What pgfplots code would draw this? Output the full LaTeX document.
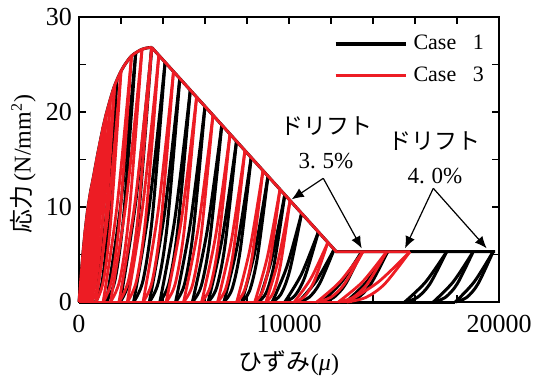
\documentclass[border=0pt]{standalone}
\usepackage{pgfplots}
\pgfplotsset{compat=1.18}
\usepackage{fontspec}
\setmainfont{Liberation Serif}
\newfontfamily\cjk{Noto Sans CJK JP}
\usetikzlibrary{arrows.meta}
\definecolor{cred}{RGB}{237,28,36}
\pgfplotsset{
  R/.style={cred, line width=1.4pt, smooth, forget plot},
  B/.style={black, line width=1.5pt, smooth, forget plot},
}
\begin{document}
\begin{tikzpicture}
\begin{axis}[name=ax,
  width=210pt, height=142.5pt, scale only axis,
  xmin=0, xmax=20000, ymin=0, ymax=30,
  xtick={0,10000,20000}, minor xtick={2000,4000,6000,8000,12000,14000,16000,18000},
  ytick={0,10,20,30}, minor ytick={5,15,25},
  tick align=inside, major tick length=3.5pt, minor tick length=3.5pt,
  scaled x ticks=false,
  xticklabel style={/pgf/number format/1000 sep={}, yshift=-3pt},
  /pgf/number format/assume math mode=true,
  tick label style={font=\fontsize{13}{13}\selectfont},
  axis line style={line width=0.8pt},
  every tick/.style={black, line width=0.8pt},
  clip=false,
  xlabel={{\cjk ひずみ}(\textit{μ})},
  xlabel style={at={(axis description cs:0.5,-0.215)}, anchor=center, font=\fontsize{12}{12}\selectfont},
  ylabel={{\cjk 応力}\,(N/mm\textsuperscript{2})},
  ylabel style={at={(axis description cs:-0.133,0.484)}, anchor=center, font=\fontsize{12}{12}\selectfont},
  legend style={draw=none, fill=none, at={(rel axis cs:0.605,0.945)}, anchor=north west,
    inner sep=0pt, row sep=5pt, column sep=2pt, font=\fontsize{11}{11}\selectfont,
    nodes={inner sep=1pt}},
  legend image code/.code={\draw[#1] (0pt,0pt) -- (35pt,0pt);},
]
\addlegendimage{black, line width=2pt}
\addlegendentry{Case\hspace{0.75em}1}
\addlegendimage{cred, line width=1.4pt}
\addlegendentry{Case\hspace{0.75em}3}

% ---------------- Case 1 (black) ----------------
\addplot[B, sharp plot] coordinates {(0,0)(17920,0)};
\addplot[B] coordinates {(1800,23.3)(1400,8.39)(1100,2.10)(800,0)};
\addplot[B] coordinates {(800,0)(1300,9.32)(1800,23.3)};
\addplot[B] coordinates {(2700,26.2)(2140,9.43)(1720,2.36)(1300,0)};
\addplot[B] coordinates {(1300,0)(2000,10.48)(2700,26.2)};
\addplot[B] coordinates {(3462,26.8)(2862,9.65)(2412,2.41)(1962,0)};
\addplot[B] coordinates {(1962,0)(2712,10.72)(3462,26.8)};
\addplot[B] coordinates {(4100,25.24)(3500,9.09)(3050,2.27)(2600,0)};
\addplot[B] coordinates {(2600,0)(3350,10.10)(4100,25.24)};
\addplot[B] coordinates {(4800,23.53)(4220,8.47)(3785,2.12)(3350,0)};
\addplot[B] coordinates {(3350,0)(4075,9.41)(4800,23.53)};
\addplot[B] coordinates {(5300,22.30)(4720,8.03)(4285,2.01)(3850,0)};
\addplot[B] coordinates {(3850,0)(4575,8.92)(5300,22.30)};
\addplot[B] coordinates {(6000,20.59)(5440,7.41)(5020,1.85)(4600,0)};
\addplot[B] coordinates {(4600,0)(5300,8.24)(6000,20.59)};
\addplot[B] coordinates {(6800,18.63)(6240,6.71)(5820,1.68)(5400,0)};
\addplot[B] coordinates {(5400,0)(6100,7.45)(6800,18.63)};
\addplot[B] coordinates {(7500,16.92)(6960,6.09)(6555,1.52)(6150,0)};
\addplot[B] coordinates {(6150,0)(6825,6.77)(7500,16.92)};
\addplot[B] coordinates {(8200,15.21)(7680,5.48)(7290,1.37)(6900,0)};
\addplot[B] coordinates {(6900,0)(7550,6.08)(8200,15.21)};
\addplot[B] coordinates {(9000,13.25)(8500,4.77)(8125,1.19)(7750,0)};
\addplot[B] coordinates {(7750,0)(8375,5.30)(9000,13.25)};
\addplot[B] coordinates {(9800,11.29)(9300,4.06)(8925,1.02)(8550,0)};
\addplot[B] coordinates {(8550,0)(9175,4.52)(9800,11.29)};
\addplot[B] coordinates {(10600,9.33)(10040,3.36)(9620,0.84)(9200,0)};
\addplot[B] coordinates {(9200,0)(9900,3.73)(10600,9.33)};
\addplot[B] coordinates {(11400,7.38)(10760,2.66)(10280,0.66)(9800,0)};
\addplot[B] coordinates {(9800,0)(10600,2.95)(11400,7.38)};
\addplot[B] coordinates {(12150,5.54)(11470,1.99)(10960,0.50)(10450,0)};
\addplot[B] coordinates {(10450,0)(11300,2.22)(12150,5.54)};
\addplot[B] coordinates {(13460,5.3)(12700,1.91)(12130,0.48)(11560,0)};
\addplot[B] coordinates {(11560,0)(12510,2.12)(13460,5.3)};
\addplot[B] coordinates {(14700,5.3)(13900,1.91)(13300,0.48)(12700,0)};
\addplot[B] coordinates {(12700,0)(13700,2.12)(14700,5.3)};
\addplot[B] coordinates {(17510,5.3)(16710,1.91)(16110,0.48)(15510,0)};
\addplot[B] coordinates {(15510,0)(16510,2.12)(17510,5.3)};
\addplot[B] coordinates {(18770,5.3)(18010,1.91)(17440,0.48)(16870,0)};
\addplot[B] coordinates {(16870,0)(17820,2.12)(18770,5.3)};
\addplot[B] coordinates {(19720,5.3)(19000,1.91)(18460,0.48)(17920,0)};
\addplot[B] coordinates {(17920,0)(18820,2.12)(19720,5.3)};
% envelope
\addplot[B] coordinates {(0,0)(100,2.8)(200,5.4)(300,7.6)(400,9.5)(550,11.6)(700,13.3)(850,15.1)(1000,16.8)(1150,18.4)(1300,19.8)(1500,21.4)(1700,22.8)(2000,24.3)(2250,25.2)(2500,25.9)(2750,26.3)(3000,26.6)(3250,26.75)(3462,26.8)};
\addplot[B, sharp plot] coordinates {(3462,26.8)(12250,5.3)(19810,5.3)};

% ---------------- Case 3 (red) ----------------
\addplot[R, sharp plot] coordinates {(0,0)(13000,0)};
\addplot[R] coordinates {(300,7.6)(192,2.74)(111,0.68)(30,0)};
\addplot[R] coordinates {(30,0)(165,3.04)(300,7.6)};
\addplot[R] coordinates {(550,11.6)(366,4.18)(228,1.04)(90,0)};
\addplot[R] coordinates {(90,0)(320,4.64)(550,11.6)};
\addplot[R] coordinates {(700,13.3)(472,4.79)(301,1.20)(130,0)};
\addplot[R] coordinates {(130,0)(415,5.32)(700,13.3)};
\addplot[R] coordinates {(850,15.1)(582,5.44)(381,1.36)(180,0)};
\addplot[R] coordinates {(180,0)(515,6.04)(850,15.1)};
\addplot[R] coordinates {(1000,16.8)(696,6.05)(468,1.51)(240,0)};
\addplot[R] coordinates {(240,0)(620,6.72)(1000,16.8)};
\addplot[R] coordinates {(1150,18.4)(810,6.62)(555,1.66)(300,0)};
\addplot[R] coordinates {(300,0)(725,7.36)(1150,18.4)};
\addplot[R] coordinates {(1300,19.8)(928,7.13)(649,1.78)(370,0)};
\addplot[R] coordinates {(370,0)(835,7.92)(1300,19.8)};
\addplot[R] coordinates {(1500,21.4)(1092,7.70)(786,1.93)(480,0)};
\addplot[R] coordinates {(480,0)(990,8.56)(1500,21.4)};
\addplot[R] coordinates {(1700,22.8)(1260,8.21)(930,2.05)(600,0)};
\addplot[R] coordinates {(600,0)(1150,9.12)(1700,22.8)};
\addplot[R] coordinates {(2000,24.3)(1520,8.75)(1160,2.19)(800,0)};
\addplot[R] coordinates {(800,0)(1400,9.72)(2000,24.3)};
\addplot[R] coordinates {(2500,25.9)(1960,9.32)(1555,2.33)(1150,0)};
\addplot[R] coordinates {(1150,0)(1825,10.36)(2500,25.9)};
\addplot[R] coordinates {(3000,26.6)(2400,9.58)(1950,2.39)(1500,0)};
\addplot[R] coordinates {(1500,0)(2250,10.64)(3000,26.6)};
\addplot[R] coordinates {(3462,26.8)(2838,9.65)(2370,2.41)(1902,0)};
\addplot[R] coordinates {(1902,0)(2682,10.72)(3462,26.8)};
\addplot[R] coordinates {(3800,25.97)(3200,9.35)(2750,2.34)(2300,0)};
\addplot[R] coordinates {(2300,0)(3050,10.39)(3800,25.97)};
\addplot[R] coordinates {(4500,24.26)(3920,8.73)(3485,2.18)(3050,0)};
\addplot[R] coordinates {(3050,0)(3775,9.70)(4500,24.26)};
\addplot[R] coordinates {(5600,21.57)(5020,7.77)(4585,1.94)(4150,0)};
\addplot[R] coordinates {(4150,0)(4875,8.63)(5600,21.57)};
\addplot[R] coordinates {(6380,19.66)(5820,7.08)(5400,1.77)(4980,0)};
\addplot[R] coordinates {(4980,0)(5680,7.86)(6380,19.66)};
\addplot[R] coordinates {(7190,17.68)(6650,6.36)(6245,1.59)(5840,0)};
\addplot[R] coordinates {(5840,0)(6515,7.07)(7190,17.68)};
\addplot[R] coordinates {(7900,15.94)(7380,5.74)(6990,1.43)(6600,0)};
\addplot[R] coordinates {(6600,0)(7250,6.38)(7900,15.94)};
\addplot[R] coordinates {(8760,13.84)(8260,4.98)(7885,1.25)(7510,0)};
\addplot[R] coordinates {(7510,0)(8135,5.54)(8760,13.84)};
\addplot[R] coordinates {(9570,11.85)(9090,4.27)(8730,1.07)(8370,0)};
\addplot[R] coordinates {(8370,0)(8970,4.74)(9570,11.85)};
\addplot[R] coordinates {(10050,10.68)(9590,3.84)(9245,0.96)(8900,0)};
\addplot[R] coordinates {(8900,0)(9475,4.27)(10050,10.68)};
\addplot[R] coordinates {(11850,6.27)(11210,2.26)(10730,0.56)(10250,0)};
\addplot[R] coordinates {(10250,0)(11050,2.51)(11850,6.27)};
\addplot[R] coordinates {(13520,5.3)(12640,1.91)(11980,0.48)(11320,0)};
\addplot[R] coordinates {(11320,0)(12420,2.12)(13520,5.3)};
\addplot[R] coordinates {(14650,5.3)(13730,1.91)(13040,0.48)(12350,0)};
\addplot[R] coordinates {(12350,0)(13500,2.12)(14650,5.3)};
\addplot[R] coordinates {(15760,5.3)(14560,1.91)(13660,0.48)(12760,0)};
\addplot[R] coordinates {(12760,0)(14260,2.12)(15760,5.3)};
% envelope
\addplot[R] coordinates {(0,0)(100,2.8)(200,5.4)(300,7.6)(400,9.5)(550,11.6)(700,13.3)(850,15.1)(1000,16.8)(1150,18.4)(1300,19.8)(1500,21.4)(1700,22.8)(2000,24.3)(2250,25.2)(2500,25.9)(2750,26.3)(3000,26.6)(3250,26.75)(3462,26.8)};
\addplot[R, sharp plot] coordinates {(3462,26.8)(12250,5.3)(15760,5.3)};

% annotations
\node[font=\fontsize{11.5}{11.5}\selectfont\cjk] at (axis cs:11795,18.5) {ドリフト};
\node[font=\fontsize{11.5}{11.5}\selectfont] at (axis cs:11762,14.84) {3.\hspace{0.3em}5\%};
\node[font=\fontsize{11.5}{11.5}\selectfont\cjk] at (axis cs:16952,16.95) {ドリフト};
\node[font=\fontsize{11.5}{11.5}\selectfont] at (axis cs:16952,13.26) {4.\hspace{0.3em}0\%};
\draw[-{Latex[length=6pt,width=5pt]}, line width=0.6pt] (axis cs:11633,13.02) -- (axis cs:10129,10.81);
\draw[-{Latex[length=6pt,width=5pt]}, line width=0.6pt] (axis cs:11633,13.02) -- (axis cs:13462,5.65);
\draw[-{Latex[length=6pt,width=5pt]}, line width=0.6pt] (axis cs:16871,11.97) -- (axis cs:15524,5.65);
\draw[-{Latex[length=6pt,width=5pt]}, line width=0.6pt] (axis cs:16871,11.97) -- (axis cs:19414,5.65);
\end{axis}
\path (ax.south west) ++(-39.5pt,-37pt) coordinate (bl);
\path (ax.north east) ++(20pt,8.5pt) coordinate (tr);
\path (bl) rectangle (tr);
\end{tikzpicture}
\end{document}
